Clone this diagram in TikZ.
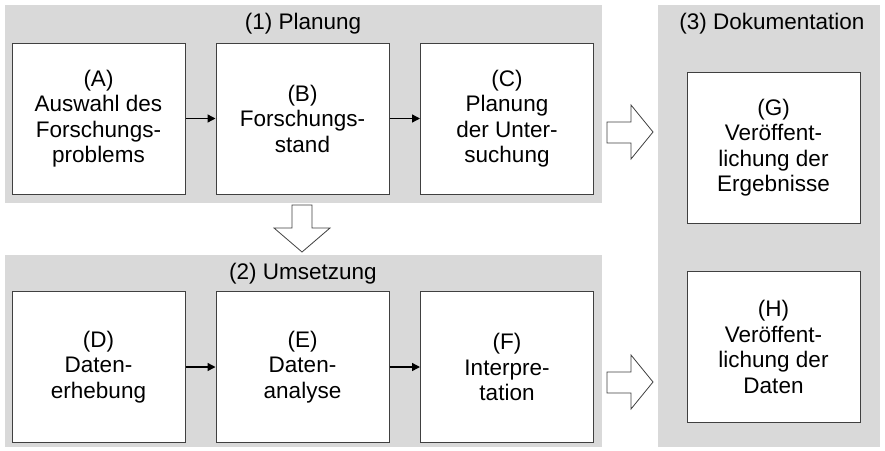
\documentclass[tikz,border=0pt]{standalone}
\usepackage{fontspec}
\setmainfont{Liberation Sans}
\usetikzlibrary{arrows.meta}
\definecolor{panelgray}{RGB}{217,217,217}
\definecolor{boxline}{RGB}{64,64,64}
\tikzstyle{panel}=[fill=panelgray,draw=none]
\tikzstyle{stage}=[draw=boxline,line width=1pt,fill=white,minimum width=173pt,minimum height=151pt,align=center,inner sep=0pt,font=\fontsize{22.5}{25.5}\selectfont]
\tikzstyle{title}=[font=\fontsize{22.5}{25.5}\selectfont,inner sep=0pt]
\tikzstyle{flow}=[line width=1.4pt,draw=black,-{Triangle[length=8pt,width=8pt]}]
\tikzstyle{bigarrow}=[draw=boxline,line width=0.8pt,fill=white]

\begin{document}
\begin{tikzpicture}[x=1pt,y=-1pt]
	\useasboundingbox (0,0) rectangle (885,450);
	% panels
	\fill[panel] (5,5) rectangle (602,203);
	\fill[panel] (5,255) rectangle (602,447);
	\fill[panel] (658,5) rectangle (880,447);

	\node[title] (t1) at (303,24) {(1) Planung};
	\node[title] (t2) at (303,274) {(2) Umsetzung};
	\node[title] (t3) at (772,24) {(3) Dokumentation};

	% stage boxes
	\node[stage] (A) at (98.5,118.5) {(A)\\Auswahl des\\Forschungs-\\problems};
	\node[stage] (B) at (302.5,118.5) {(B)\\Forschungs-\\stand};
	\node[stage] (C) at (507,118.5) {(C)\\Planung\\der Unter-\\suchung};
	\node[stage] (D) at (98.5,367) {(D)\\Daten-\\erhebung};
	\node[stage] (E) at (302.5,367) {(E)\\Daten-\\analyse};
	\node[stage] (F) at (507,367) {(F)\\Interpre-\\tation};
	\node[stage] (G) at (773.5,147.5) {(G)\\Veröffent-\\lichung der\\Ergebnisse};
	\node[stage] (H) at (773.5,347) {(H)\\Veröffent-\\lichung der\\Daten};

	\draw[flow] (A)--(B);
	\draw[flow] (B)--(C);
	\draw[flow] (D)--(E);
	\draw[flow] (E)--(F);

	% hollow arrows
	\draw[bigarrow] (292,205)--(312,205)--(312,228)--(330,228)--(302,252)--(274,228)--(292,228)--cycle;
	\draw[bigarrow] (607,122)--(631,122)--(631,105)--(653,132)--(631,159)--(631,143)--(607,143)--cycle;
	\draw[bigarrow] (607,372)--(631,372)--(631,355)--(653,382)--(631,409)--(631,393)--(607,393)--cycle;
\end{tikzpicture}
\end{document}
